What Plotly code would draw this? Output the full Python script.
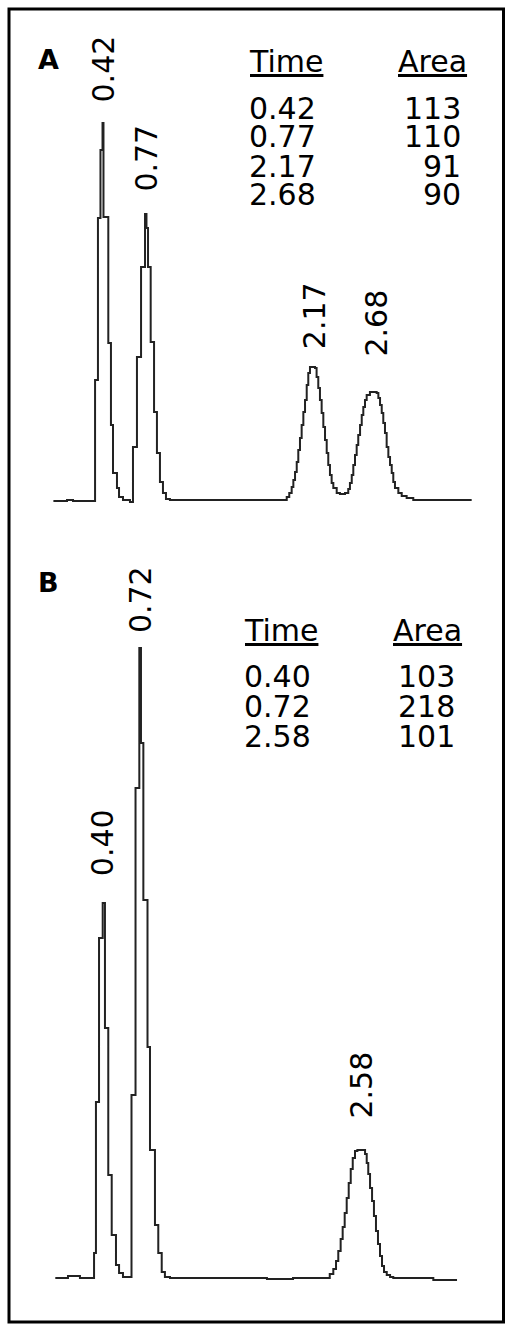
import plotly.graph_objects as go

# chromatogram A: retention time (min) and detector response (arb. units)
time_a = [0.000, 0.113, 0.163, 0.346, 0.370, 0.391, 0.408, 0.416, 0.456, 0.478,
          0.495, 0.528, 0.545, 0.578, 0.636, 0.661, 0.694, 0.728, 0.761, 0.773,
          0.786, 0.808, 0.836, 0.860, 0.885, 0.910, 0.935, 0.968,
          1.909, 1.938, 1.959, 1.979, 1.993, 2.007, 2.021, 2.034, 2.048, 2.062,
          2.076, 2.090, 2.104, 2.117, 2.131, 2.173, 2.186, 2.200, 2.214, 2.228,
          2.242, 2.256, 2.270, 2.283, 2.297, 2.311, 2.325, 2.353, 2.380, 2.422,
          2.449, 2.463, 2.478, 2.491, 2.505, 2.519, 2.532, 2.547, 2.561, 2.574,
          2.588, 2.602, 2.629, 2.685, 2.699, 2.713, 2.727, 2.740, 2.754, 2.768,
          2.782, 2.796, 2.810, 2.823, 2.837, 2.865, 2.893, 2.934, 2.989, 3.474]
signal_a = [-1, 0, -1, 120, 282, 350, 377, 283, 157, 75,
            27, 12, 3, 0, -2, 53, 143, 233, 286, 272,
            233, 158, 88, 47, 18, 7, 1, 0,
            0, 3, 7, 13, 20, 28, 38, 50, 62, 75,
            88, 100, 115, 127, 133, 132, 123, 112, 100, 87,
            73, 60, 47, 35, 25, 17, 12, 7, 6, 7,
            11, 17, 25, 35, 45, 55, 65, 75, 85, 93,
            100, 105, 108, 107, 102, 95, 87, 77, 67, 53,
            43, 35, 27, 18, 12, 7, 4, 2, 0, 0]
peaks_a = ["0.42", "0.77", "2.17", "2.68"]
areas_a = ["113", "110", "91", "90"]

# chromatogram B
time_b = [0.000, 0.107, 0.208, 0.327, 0.343, 0.369, 0.400, 0.419, 0.447, 0.476,
          0.512, 0.538, 0.571, 0.643, 0.677, 0.709, 0.723, 0.743, 0.778, 0.799,
          0.841, 0.869, 0.898, 0.925, 0.968, 1.786, 2.006,
          2.284, 2.316, 2.346, 2.369, 2.388, 2.408, 2.425, 2.442, 2.459, 2.476,
          2.493, 2.510, 2.529, 2.549, 2.614, 2.628, 2.641, 2.656, 2.673, 2.689,
          2.706, 2.723, 2.740, 2.757, 2.774, 2.797, 2.825, 2.852, 3.190, 3.390]
signal_b = [0, 2, 0, 25, 176, 340, 375, 250, 103, 43,
            13, 5, 1, 183, 490, 630, 535, 378, 231, 128,
            53, 25, 6, 1, 0, -1, 0,
            0, 4, 9, 17, 27, 39, 51, 65, 80, 95,
            109, 120, 127, 128, 124, 115, 104, 90, 77, 62,
            47, 34, 22, 12, 6, 3, 1, 0, -2, -2]
peaks_b = ["0.40", "0.72", "2.58"]
areas_b = ["103", "218", "101"]

W, H = 513, 1332
FONT = "DejaVu Sans, Arial, sans-serif"
TXT = 30
label_gap = {"0.42": 19, "0.77": 20, "2.17": 16, "2.68": 33,
             "0.40": 25, "0.72": 13, "2.58": 29}

fig = go.Figure()
fig.add_trace(go.Scatter(x=time_a, y=signal_a, mode="lines", line_shape="hv",
                         line=dict(color="#222", width=2),
                         xaxis="x", yaxis="y", hoverinfo="skip"))
fig.add_trace(go.Scatter(x=time_b, y=signal_b, mode="lines", line_shape="hv",
                         line=dict(color="#222", width=2),
                         xaxis="x2", yaxis="y2", hoverinfo="skip"))

ann = []


def px(x, y):
    return x / W, 1 - y / H


def peak_labels(times, sig, labels, xr, yr):
    for lab in labels:
        t = float(lab)
        top = max(s for tt, s in zip(times, sig) if abs(tt - t) < 0.08)
        ann.append(dict(x=t, y=top, xref=xr, yref=yr, text=lab, textangle=-90,
                        showarrow=False, xanchor="center", yanchor="bottom",
                        yshift=label_gap[lab],
                        font=dict(family=FONT, size=TXT, color="black")))


def table(letter, letter_y, times, areas, head_y, rows_y, x_time, x_area, x_head_area):
    lx, ly = px(36, letter_y)
    ann.append(dict(x=lx, y=ly, xref="paper", yref="paper", text="<b>" + letter + "</b>",
                    showarrow=False, xanchor="left", yanchor="middle",
                    font=dict(family=FONT, size=27, color="black")))
    hx, hy = px(x_time, head_y)
    ann.append(dict(x=hx, y=hy, xref="paper", yref="paper", text="<u>Time</u>",
                    showarrow=False, xanchor="left", yanchor="middle",
                    font=dict(family=FONT, size=TXT, color="black")))
    hx, hy = px(x_head_area, head_y)
    ann.append(dict(x=hx, y=hy, xref="paper", yref="paper", text="<u>Area</u>",
                    showarrow=False, xanchor="right", yanchor="middle",
                    font=dict(family=FONT, size=TXT, color="black")))
    for t, a, ry in zip(times, areas, rows_y):
        rx, yy = px(x_time, ry)
        ann.append(dict(x=rx, y=yy, xref="paper", yref="paper", text=t,
                        showarrow=False, xanchor="left", yanchor="middle",
                        font=dict(family=FONT, size=TXT, color="black")))
        rx, yy = px(x_area, ry)
        ann.append(dict(x=rx, y=yy, xref="paper", yref="paper", text=a,
                        showarrow=False, xanchor="right", yanchor="middle",
                        font=dict(family=FONT, size=TXT, color="black")))


peak_labels(time_a, signal_a, peaks_a, "x", "y")
peak_labels(time_b, signal_b, peaks_b, "x2", "y2")
table("A", 59, peaks_a, areas_a, 61, [108, 137, 166, 195], 247, 463, 469)
table("B", 583, peaks_b, areas_b, 630, [676, 706, 736], 242, 457, 464)

hidden = dict(visible=False, showgrid=False, zeroline=False, fixedrange=True)
fig.update_layout(
    width=W, height=H, margin=dict(l=0, r=0, t=0, b=0),
    paper_bgcolor="white", plot_bgcolor="white", showlegend=False,
    xaxis=dict(domain=[0, 1], range=[-0.4435, 3.8173], anchor="y", **hidden),
    yaxis=dict(domain=[0, 1], range=[-832, 500], anchor="x", **hidden),
    xaxis2=dict(range=[-0.4667, 3.8624], anchor="y2", overlaying="x", **hidden),
    yaxis2=dict(range=[-54, 1278], anchor="x2", overlaying="y", **hidden),
    annotations=ann,
    shapes=[dict(type="rect", xref="paper", yref="paper",
                 x0=9 / W, x1=503.5 / W, y0=1 - 1322 / H, y1=1 - 9 / H,
                 line=dict(color="black", width=3))],
)

fig.write_html("out.html", config={"displayModeBar": False},
               post_script="document.body.style.margin='0';")
